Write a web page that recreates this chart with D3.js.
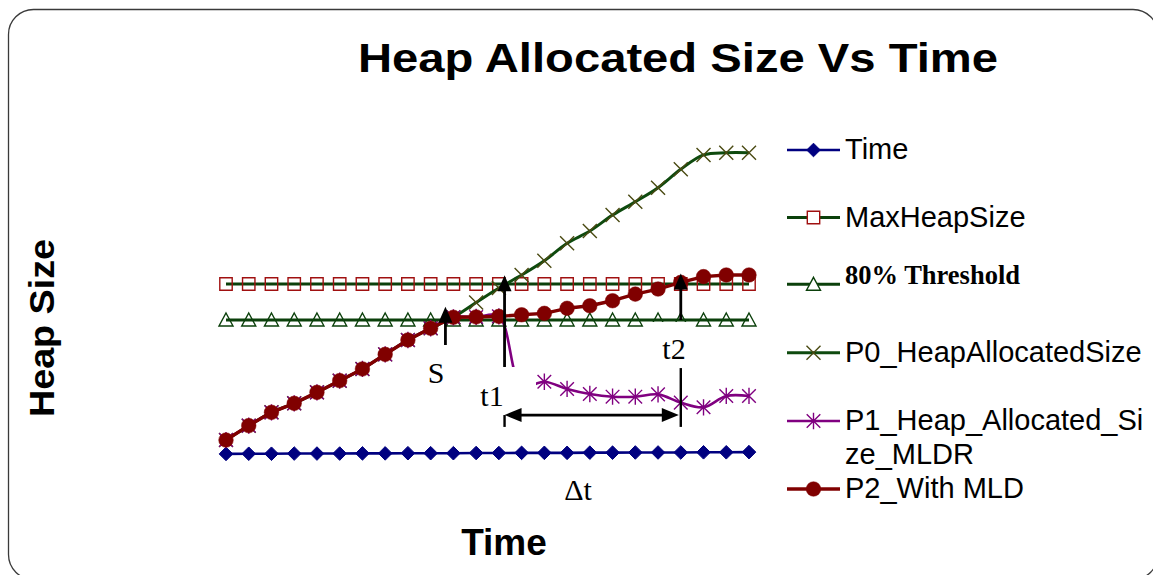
<!DOCTYPE html>
<html>
<head>
<meta charset="utf-8">
<script src="https://cdn.jsdelivr.net/npm/d3@7/dist/d3.min.js"></script>
<style>
  html, body { margin: 0; padding: 0; background: #fff; }
  svg { display: block; }
</style>
</head>
<body>
<svg id="chart" width="1153" height="575"></svg>
<script>
// ---- data (heap size in % of max heap, sampled at 24 time steps) ----
const timeSteps = d3.range(1, 25);
const timeSeries = [5.6, 5.7, 5.7, 5.8, 5.8, 5.8, 5.9, 5.9, 6.0, 6.0, 6.0, 6.1,
                    6.1, 6.2, 6.2, 6.2, 6.3, 6.3, 6.4, 6.4, 6.4, 6.5, 6.5, 6.6];
const maxHeapSize = [100, 100, 100, 100, 100, 100, 100, 100, 100, 100, 100, 100,
                     100, 100, 100, 100, 100, 100, 100, 100, 100, 100, 100, 100];
const threshold80 = [80, 80, 80, 80, 80, 80, 80, 80, 80, 80, 80, 80,
                     80, 80, 80, 80, 80, 80, 80, 80, 80, 80, 80, 80];
const p0Heap = [13.3, 21.3, 28.7, 33.7, 39.8, 46.3, 52.8, 60.9, 68.9, 75.4, 81.5, 89.7,
                97.8, 105.0, 112.9, 122.6, 129.4, 138.3, 145.7, 153.5, 163.7, 171.7, 172.9, 172.9];
const p1HeapMLDR = [13.3, 21.3, 28.7, 33.7, 39.8, 46.3, 52.8, 60.9, 68.9, 75.4, 81.5, 81.7,
                    82.0, 43.3, 45.7, 41.7, 38.9, 37.4, 37.4, 38.7, 34.1, 31.5, 37.8, 37.8];
const p2WithMLD = [13.3, 21.3, 28.7, 33.7, 39.8, 46.3, 52.8, 60.9, 68.9, 75.4, 81.5, 81.7,
                   82.0, 82.9, 83.7, 86.5, 87.9, 90.7, 94.4, 97.2, 100.9, 104.1, 105.0, 105.0];

const legendLabels = ["Time", "MaxHeapSize", "80% Threshold", "P0_HeapAllocatedSize",
                      "P1_Heap_Allocated_Si|ze_MLDR", "P2_With MLD"];

// ---- layout ----
const svg = d3.select("#chart");

const x = d3.scalePoint().domain(timeSteps).range([226, 749]).padding(0);
const y = d3.scaleLinear().domain([0, 100]).range([464, 284]);
const xi = i => x(timeSteps[0]) + i * x.step();   // fractional index -> px

// frame
svg.append("rect")
  .attr("x", 8.5).attr("y", 9.5).attr("width", 1149.5).attr("height", 570)
  .attr("rx", 25).attr("ry", 25)
  .attr("fill", "none").attr("stroke", "#3a3a3a").attr("stroke-width", 1.3);

// title and axis titles
svg.append("text")
  .attr("x", 678).attr("y", 72).attr("text-anchor", "middle")
  .attr("font-family", "'Liberation Sans', Arial, sans-serif")
  .attr("font-weight", "bold").attr("font-size", 41)
  .attr("textLength", 640).attr("lengthAdjust", "spacingAndGlyphs")
  .text("Heap Allocated Size Vs Time");

svg.append("text")
  .attr("transform", "translate(54,328) rotate(-90)")
  .attr("text-anchor", "middle")
  .attr("font-family", "'Liberation Sans', Arial, sans-serif")
  .attr("font-weight", "bold").attr("font-size", 35)
  .attr("textLength", 178).attr("lengthAdjust", "spacingAndGlyphs")
  .text("Heap Size");

svg.append("text")
  .attr("x", 504).attr("y", 555).attr("text-anchor", "middle")
  .attr("font-family", "'Liberation Sans', Arial, sans-serif")
  .attr("font-weight", "bold").attr("font-size", 37)
  .text("Time");

// ---- marker shapes ----
const shapes = {
  diamond: s => `M0,${-s}L${s},0L0,${s}L${-s},0Z`,
  square: s => `M${-s},${-s}H${s}V${s}H${-s}Z`,
  triangle: s => `M0,${-s}L${s},${s * 0.85}L${-s},${s * 0.85}Z`,
  cross: s => `M${-s},${-s}L${s},${s}M${-s},${s}L${s},${-s}`,
  asterisk: s => `M${-s},${-s}L${s},${s}M${-s},${s}L${s},${-s}M0,${-s * 1.2}L0,${s * 1.2}`,
  circle: s => d3.arc()({innerRadius: 0, outerRadius: s, startAngle: 0, endAngle: 2 * Math.PI})
};

const series = [
  {name: "time", values: timeSeries, line: "#000080", lw: 2.6, curve: d3.curveLinear,
   shape: "diamond", size: 6.8, fill: "#000080", stroke: "#000080", sw: 1},
  {name: "max", values: maxHeapSize, line: "#0b400b", lw: 3, curve: d3.curveLinear,
   shape: "square", size: 6.2, fill: "none", stroke: "#a01010", sw: 1.4},
  {name: "thr", values: threshold80, line: "#0b400b", lw: 3, curve: d3.curveLinear,
   shape: "triangle", size: 7, fill: "none", stroke: "#0b400b", sw: 1.4},
  {name: "p0", values: p0Heap, line: "#0e4a0e", lw: 3, curve: d3.curveCatmullRom.alpha(0.5),
   shape: "cross", size: 7, fill: "none", stroke: "#4a4a12", sw: 1.4},
  {name: "p1", values: p1HeapMLDR, line: "#800080", lw: 2.6, curve: d3.curveCatmullRom.alpha(0.5),
   shape: "asterisk", size: 6.8, fill: "none", stroke: "#800080", sw: 1.4},
  {name: "p2", values: p2WithMLD, line: "#800000", lw: 3.4, curve: d3.curveLinear,
   shape: "circle", size: 7.3, fill: "#800000", stroke: "#800000", sw: 0.5}
];

const plot = svg.append("g");
series.forEach(s => {
  const g = plot.append("g").attr("class", "series-" + s.name);
  const line = d3.line()
    .x((d, i) => x(timeSteps[i]))
    .y(d => y(d))
    .curve(s.curve);
  g.append("path")
    .attr("d", line(s.values))
    .attr("fill", "none").attr("stroke", s.line)
    .attr("stroke-width", s.lw).attr("stroke-linejoin", "round");
  g.selectAll("path.mk").data(s.values).join("path")
    .attr("class", "mk")
    .attr("transform", (d, i) => `translate(${x(timeSteps[i])},${y(d)})`)
    .attr("d", shapes[s.shape](s.size))
    .attr("fill", s.fill).attr("stroke", s.stroke).attr("stroke-width", s.sw);
});

// ---- annotations ----
const serif = "'Liberation Serif', 'Times New Roman', serif";
const ann = svg.append("g");

// text boxes with white fill
ann.append("rect").attr("x", 470).attr("y", 367).attr("width", 66).attr("height", 45).attr("fill", "#fff");
ann.append("rect").attr("x", 648).attr("y", 322).attr("width", 46).attr("height", 46).attr("fill", "#fff");

function upArrow(xIdx, tipVal, tailVal) {
  const px = xi(xIdx), tip = y(tipVal), tail = y(tailVal);
  ann.append("line").attr("x1", px).attr("x2", px).attr("y1", tip + 10).attr("y2", tail)
    .attr("stroke", "#000").attr("stroke-width", 2.8);
  ann.append("path")
    .attr("d", `M${px},${tip}L${px + 7},${tip + 16}L${px - 7},${tip + 16}Z`)
    .attr("fill", "#000");
}
upArrow(9.65, 87.4, 66.1);   // S
upArrow(12.25, 104.8, 53.9); // t1
upArrow(20, 105.8, 80.0);    // t2

// t2 marker below its label
ann.append("line").attr("x1", xi(20)).attr("x2", xi(20))
  .attr("y1", y(53.3)).attr("y2", y(20.6))
  .attr("stroke", "#000").attr("stroke-width", 2.4);

// delta-t span
const dtY = y(27.2), dtL = xi(12.25), dtR = xi(20) - 2;
ann.append("line").attr("x1", dtL).attr("x2", dtL).attr("y1", dtY).attr("y2", y(20.6))
  .attr("stroke", "#000").attr("stroke-width", 2.4);
ann.append("line").attr("x1", dtL + 10).attr("x2", dtR - 10).attr("y1", dtY).attr("y2", dtY)
  .attr("stroke", "#000").attr("stroke-width", 2.8);
ann.append("path").attr("d", `M${dtL},${dtY}L${dtL + 17},${dtY - 7}L${dtL + 17},${dtY + 7}Z`).attr("fill", "#000");
ann.append("path").attr("d", `M${dtR},${dtY}L${dtR - 17},${dtY - 7}L${dtR - 17},${dtY + 7}Z`).attr("fill", "#000");

const labels = [
  {t: "S", x: 436, y: 383},
  {t: "t1", x: 492, y: 406},
  {t: "t2", x: 674, y: 359},
  {t: "\u0394t", x: 578, y: 500}
];
ann.selectAll("text.lbl").data(labels).join("text")
  .attr("class", "lbl")
  .attr("x", d => d.x).attr("y", d => d.y).attr("text-anchor", "middle")
  .attr("font-family", serif).attr("font-size", 30).attr("fill", "#000")
  .text(d => d.t);

// ---- legend ----
const legendY = [150, 217.5, 284.3, 352.7, 421, 489];
const leg = svg.append("g");
series.forEach((s, i) => {
  const ly = legendY[i];
  leg.append("line").attr("x1", 787).attr("x2", 840).attr("y1", ly).attr("y2", ly)
    .attr("stroke", s.line).attr("stroke-width", s.lw);
  leg.append("path")
    .attr("transform", `translate(813.5,${ly})`)
    .attr("d", shapes[s.shape](s.size))
    .attr("fill", s.fill === "none" ? "#fff" : s.fill)
    .attr("stroke", s.stroke).attr("stroke-width", s.sw);
  const parts = legendLabels[i].split("|");
  const bold = i === 2;
  const txt = leg.append("text")
    .attr("x", 845).attr("y", ly + (bold ? 0 : 9))
    .attr("font-family", bold ? serif : "'Liberation Sans', Arial, sans-serif")
    .attr("font-weight", bold ? "bold" : "normal")
    .attr("font-size", bold ? 26.5 : 29).attr("fill", "#000");
  parts.forEach((p, k) => {
    txt.append("tspan").attr("x", 845).attr("dy", k === 0 ? 0 : 34).text(p);
  });
});
</script>
</body>
</html>
